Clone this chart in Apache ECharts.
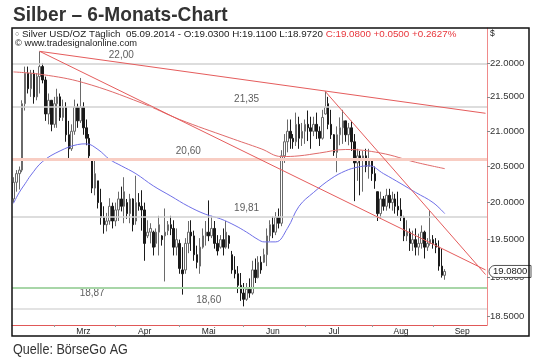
<!DOCTYPE html>
<html><head><meta charset="utf-8">
<script src="https://cdn.jsdelivr.net/npm/echarts@6/dist/echarts.min.js"></script>
<style>html,body{margin:0;padding:0;background:#fff}#c{width:540px;height:360px}</style>
</head><body><div id="c"></div>
<script>
// ---- data (prices in USD/oz, daily from 2014-02-11 to 2014-09-05) ----
const opens = [20.05,20.28,20.40,20.45,21.40,21.85,21.62,21.85,21.50,21.80,21.95,21.75,21.25,21.45,21.10,21.40,21.50,21.20,21.35,20.95,
20.75,21.00,21.35,21.15,21.35,21.05,20.90,20.60,20.20,20.30,20.00,19.80,19.70,19.75,19.95,19.75,19.90,20.05,19.95,20.00,
19.85,20.05,19.75,20.00,19.95,19.90,19.55,19.60,19.60,19.45,19.60,19.55,19.55,19.62,19.70,19.65,19.40,19.45,19.10,19.10,
19.45,19.60,19.55,19.30,19.15,19.40,19.55,19.60,19.55,19.65,19.45,19.40,19.50,19.40,19.55,19.30,19.10,19.05,18.90,18.80,
18.72,18.85,18.80,19.10,19.00,19.20,19.20,19.30,19.55,19.70,19.60,19.80,19.72,20.65,20.85,21.00,20.90,20.85,21.10,20.90,
21.00,21.10,21.05,21.00,21.10,21.00,20.90,21.25,21.40,21.10,20.95,20.70,20.95,21.05,21.15,20.95,21.05,20.85,20.55,20.65,
20.60,20.65,20.50,20.60,20.40,20.15,19.85,20.05,19.95,20.10,20.00,20.05,19.95,19.90,19.80,19.55,19.60,19.45,19.50,19.40,
19.45,19.60,19.40,19.45,19.50,19.45,19.40,19.15,19.03];
const highs = [20.35,20.45,20.50,21.45,21.95,21.95,21.90,21.90,21.85,22.18,22.00,21.80,21.55,21.45,21.50,21.62,21.55,21.46,21.42,21.15,
21.10,21.46,21.40,21.78,21.42,21.17,20.96,20.61,20.61,20.30,20.19,19.95,19.86,20.06,20.00,20.00,20.15,20.22,20.35,20.05,
20.12,20.06,20.37,20.13,20.17,20.00,19.76,19.72,19.62,19.65,19.82,19.56,19.92,19.75,19.82,19.76,19.65,19.50,19.40,19.52,
19.75,19.76,19.62,19.42,19.52,19.65,19.75,20.03,19.82,19.75,19.56,19.56,19.65,19.75,19.56,19.35,19.28,19.15,19.06,18.93,
18.93,18.99,19.22,19.25,19.28,19.28,19.38,19.65,19.76,19.81,19.87,19.92,20.73,20.96,21.17,21.17,20.96,21.27,21.21,21.12,
21.17,21.30,21.21,21.21,21.27,21.07,21.31,21.58,21.50,21.31,20.96,21.07,21.20,21.31,21.15,21.12,21.15,20.96,20.75,20.72,
20.72,20.75,20.75,20.61,20.50,20.15,20.15,20.09,20.19,20.19,20.15,20.12,20.15,20.06,19.82,19.76,19.65,19.62,19.65,19.58,
19.69,19.62,19.52,19.90,19.56,19.52,19.49,19.38,19.11];
const lows = [20.00,20.15,20.18,20.42,21.30,21.55,21.50,21.40,21.45,21.55,21.70,21.15,21.10,21.00,21.05,21.05,21.15,21.15,20.85,20.62,
20.72,20.95,21.05,21.12,20.95,20.80,20.60,20.13,20.10,19.92,19.70,19.58,19.61,19.70,19.65,19.68,19.75,19.88,19.72,19.78,
19.72,19.61,19.70,19.89,19.62,19.22,19.52,19.45,19.29,19.40,19.29,19.42,18.95,19.56,19.56,19.29,19.29,19.05,18.78,19.05,
19.32,19.35,19.22,19.12,19.05,19.38,19.42,19.48,19.52,19.38,19.29,19.38,19.29,19.38,19.38,19.05,18.99,18.80,18.70,18.63,
18.70,18.74,18.78,18.93,18.99,19.05,19.19,19.15,19.48,19.52,19.56,19.65,19.68,20.55,20.70,20.75,20.75,20.79,20.75,20.79,
20.82,20.86,20.75,20.93,20.89,20.79,20.88,21.24,21.03,20.89,20.65,20.42,20.80,20.82,20.85,20.80,20.72,20.02,20.30,20.10,
20.15,20.42,20.33,20.30,20.19,19.75,19.78,19.89,19.89,19.92,19.89,19.85,19.82,19.75,19.48,19.48,19.35,19.35,19.29,19.29,
19.38,19.25,19.35,19.42,19.38,19.32,19.09,19.00,18.972];
const closes = [20.28,20.40,20.45,21.40,21.85,21.62,21.85,21.50,21.80,21.95,21.75,21.25,21.45,21.10,21.40,21.50,21.20,21.35,20.95,20.75,
21.00,21.35,21.15,21.35,21.05,20.90,20.65,20.20,20.40,20.00,19.80,19.70,19.75,19.95,19.75,19.90,20.05,19.95,20.15,19.85,
20.05,19.70,20.00,19.95,19.90,19.45,19.60,19.65,19.40,19.60,19.70,19.50,19.60,19.70,19.65,19.40,19.50,19.12,19.05,19.45,
19.60,19.55,19.30,19.20,19.40,19.55,19.60,19.55,19.65,19.45,19.35,19.50,19.40,19.60,19.45,19.10,19.05,18.90,18.80,18.72,
18.85,18.80,19.10,19.00,19.20,19.10,19.30,19.55,19.70,19.60,19.80,19.72,20.65,20.85,21.00,20.90,20.85,21.10,20.90,21.00,
21.10,21.05,21.00,21.10,21.00,20.90,21.20,21.35,21.10,20.95,20.70,20.95,21.05,21.15,20.95,21.05,20.85,20.55,20.65,20.60,
20.65,20.50,20.60,20.40,20.30,19.85,20.05,19.95,20.10,20.00,20.05,19.95,19.90,19.80,19.55,19.60,19.45,19.50,19.40,19.45,
19.60,19.40,19.45,19.50,19.45,19.40,19.15,19.03,19.08];
// moving averages: [bar index, value]
const maBlueIdx = [0,2,4,6,10,16,22,25,29,33,37,42,48,54,60,66,71,76,80,84,86,90,94,98,103,109,114,118,122,127,133,138,144,148];
const maBlueVal = [19.99,20.14,20.26,20.38,20.57,20.72,20.81,20.82,20.74,20.60,20.51,20.40,20.23,20.09,19.95,19.84,19.78,19.69,19.60,19.50,19.47,19.47,19.65,19.95,20.14,20.33,20.44,20.49,20.51,20.40,20.26,20.14,20.00,19.85];
const maRedIdx = [0,10,24,44,57,74,85,92,98,105,114,126,138,148];
const maRedVal = [21.87,21.83,21.71,21.41,21.17,20.91,20.75,20.64,20.65,20.69,20.74,20.69,20.56,20.47];
// trend lines: [startIndex, startPrice, endIndex, endPrice]
const trendA = [9,22.18,162,21.26];
const trendB = [9,22.18,162,19.10];
const trendC = [107,21.58,162,19.04];
// horizontal levels
const levels = [22.00,21.35,20.60,19.81,18.87,18.60];
const levelText = ['22,00','21,35','20,60','19,81','18,87','18,60'];
const levelLabelIdx = [37,80,60,80,27,67];
const levelBelow = [false,false,false,false,true,false];
const yTicks = [18.5,19.0,19.5,20.0,20.5,21.0,21.5,22.0];
const monthNames = ['Jan','Feb','Mrz','Apr','Mai','Jun','Jul','Aug','Sep','Okt','Nov','Dez'];
const lastClose = 19.08;

// trading-day categories (weekdays), including empty future days
const dates = [];
(function(){ let d = new Date(Date.UTC(2014,1,11)); while (dates.length < 163) { const w = d.getUTCDay(); if (w !== 0 && w !== 6) dates.push(d.toISOString().slice(0,10)); d.setUTCDate(d.getUTCDate()+1); } })();
const mon = i => +dates[i].slice(5,7);
const day = i => +dates[i].slice(8,10);
function isMonthStart(i){ return i > 0 && mon(i) !== mon(i-1); }
function isMidMonth(i){ if (mon(i) < 3 || day(i) < 15) return false; return i === 0 || mon(i-1) !== mon(i) || day(i-1) < 15; }

const L = Math.log;
const candle = opens.map((o,i)=>[L(o), L(closes[i]), L(lows[i]), L(highs[i])]);
const blue = maBlueIdx.map((x,k)=>[x, L(maBlueVal[k])]);
const red = maRedIdx.map((x,k)=>[x, L(maRedVal[k])]);
const tl = t => [{coord:[t[0], L(t[1])]},{coord:[t[2], L(t[3])]}];

const levelStyles = [
  {color:'#d2d2d2', width:1.5},{color:'#d2d2d2', width:1.5},{color:'#f8cdc3', width:3},
  {color:'#d2d2d2', width:1.5},{color:'#a8d6a8', width:2},{color:'#dadada', width:1.5}];

const FONT = "'Liberation Sans', Arial, sans-serif";

const chart = echarts.init(document.getElementById('c'), null, {renderer:'canvas'});
chart.setOption({
  animation: false,
  backgroundColor: '#fff',
  grid: {left: 12, right: 53, top: 28, bottom: 35, containLabel: false},
  xAxis: {
    type: 'category', data: dates, boundaryGap: true,
    axisLine: {show: true, lineStyle: {color: '#e05858', width: 1}},
    axisTick: {show: true, alignWithLabel: true, length: 2, interval: (i)=>isMonthStart(i), lineStyle: {color: '#999'}},
    axisLabel: {show: true, interval: (i)=>isMidMonth(i), formatter: v => monthNames[+v.slice(5,7)-1], color: '#222', fontSize: 8.5, fontFamily: FONT, margin: 2},
    splitLine: {show: false}
  },
  yAxis: {
    type: 'value', position: 'right', scale: true,
    min: L(18.394), max: L(22.537),
    axisLine: {show: true, lineStyle: {color: '#f08a8a', width: 1}},
    axisTick: {show: true, customValues: yTicks.map(L), length: 3, lineStyle: {color: '#888'}},
    axisLabel: {show: true, customValues: yTicks.map(L), formatter: v => Math.exp(v).toFixed(4), color: '#333', fontSize: 9.5, fontFamily: FONT, margin: 3},
    splitLine: {show: false}
  },
  series: [
    { type: 'line', name: 'levels', data: [], z: 1, silent: true,
      markLine: { symbol: ['none','none'], precision: 12, silent: true, animation: false, label: {show: false},
        data: levels.map((v,k)=>({yAxis: L(v), lineStyle: {type:'solid', color: levelStyles[k].color, width: levelStyles[k].width}})) } },
    { type: 'candlestick', name: 'Silber', data: candle, barWidth: 2, z: 2,
      itemStyle: {color: '#ffffff', color0: '#1a1a1a', borderColor: '#6a6a6a', borderColor0: '#1a1a1a', borderWidth: 1} },
    { type: 'line', name: 'MA blau', data: blue, connectNulls: true, smooth: 0.4, showSymbol: false, z: 3,
      lineStyle: {color: '#6f6fe8', width: 1} },
    { type: 'line', name: 'MA rot', data: red, smooth: 0.4, showSymbol: false, z: 3,
      lineStyle: {color: '#e06a6a', width: 1},
      markLine: { symbol: ['none','none'], precision: 12, silent: true, label: {show: false},
        lineStyle: {type: 'solid', color: '#e55c5c', width: 1},
        data: [tl(trendA), tl(trendB), tl(trendC)] } },
    { type: 'scatter', name: 'labels', symbolSize: 0, z: 4, silent: true,
      data: levels.map((v,k)=>({value: [levelLabelIdx[k], L(v)],
        label: {show: true, formatter: levelText[k], position: levelBelow[k] ? 'bottom' : 'top', distance: levelBelow[k] ? 1 : 3,
          color: '#333', fontSize: 10, fontFamily: FONT}})) }
  ]
});

const yLast = chart.convertToPixel({yAxisIndex: 0}, L(lastClose));
chart.setOption({
  graphic: [
    {type: 'text', x: 13, y: 5, scaleX: 0.91, style: {text: 'Silber – 6-Monats-Chart', fill: '#333', fontSize: 21, fontWeight: 'bold', fontFamily: FONT}},
    {type: 'text', x: 13, y: 342, scaleX: 0.84, style: {text: 'Quelle: BörseGo AG', fill: '#333', fontSize: 15, fontFamily: FONT}},
    {type: 'text', x: 15, y: 29, style: {text: '{i|○}{a| Silver USD/OZ Täglich  05.09.2014 - O:19.0300 H:19.1100 L:18.9720 }{b|C:19.0800 +0.0500 +0.2627%}',
      rich: {i: {fill: '#555', fontSize: 7, fontFamily: FONT}, a: {fill: '#222', fontSize: 9.8, fontFamily: FONT}, b: {fill: '#e8363c', fontSize: 9.8, fontFamily: FONT}}}},
    {type: 'text', x: 15, y: 38.5, style: {text: '© www.tradesignalonline.com', fill: '#222', fontSize: 9.3, fontFamily: FONT}},
    {type: 'text', x: 490, y: 29, style: {text: '$', fill: '#222', fontSize: 8.5, fontFamily: FONT}},
    {type: 'rect', z: 100, shape: {x: 489, y: yLast - 6, width: 42, height: 12, r: [6,0,0,6]}, style: {fill: '#fff', stroke: '#555', lineWidth: 1}},
    {type: 'text', z: 101, x: 493, y: yLast - 5, style: {text: '19.0800', fill: '#222', fontSize: 9.5, fontFamily: FONT}},
    {type: 'rect', z: 102, shape: {x: 12, y: 28, width: 517, height: 308}, style: {fill: 'none', stroke: '#111', lineWidth: 1.5}}
  ]
});
</script>
</body></html>
